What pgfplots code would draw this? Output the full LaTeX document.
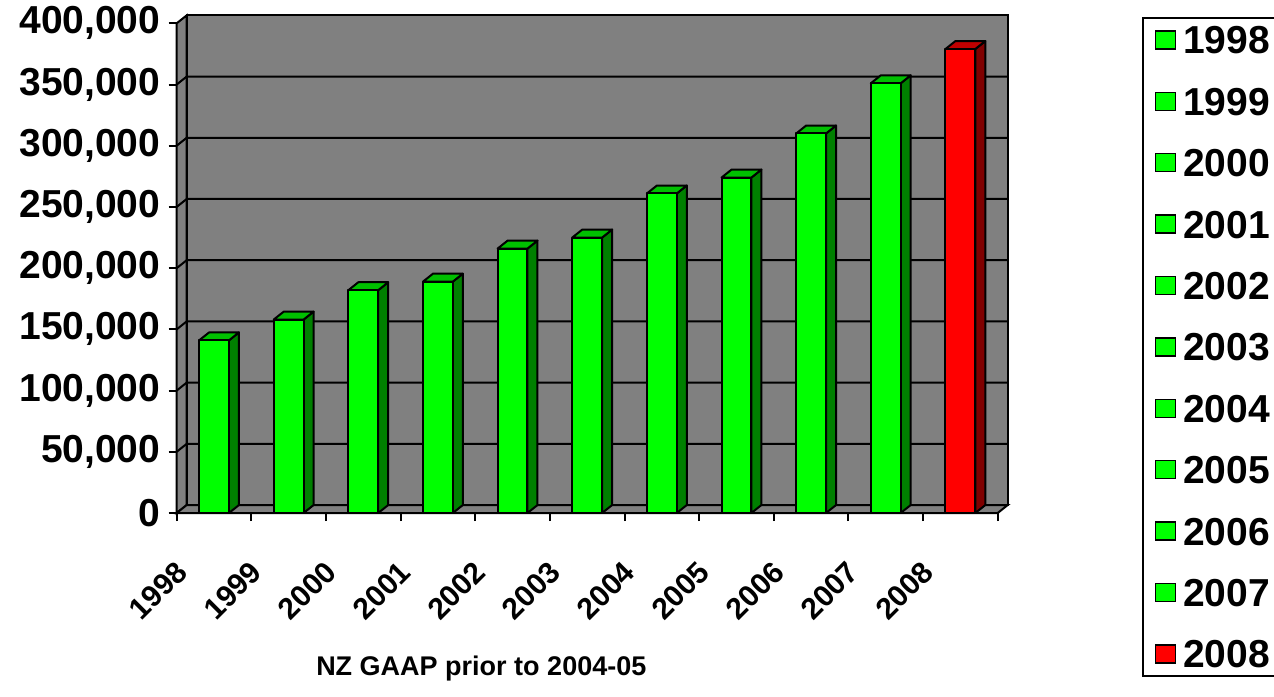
\documentclass[border=0pt]{standalone}
\usepackage{pgfplots}
\pgfplotsset{compat=1.18}
\usepackage{pgfplotstable}
\usepackage{fontspec}
\setmainfont{Liberation Sans}
\definecolor{wall}{HTML}{808080}
\definecolor{gfront}{HTML}{00FF00}
\definecolor{gside}{HTML}{008000}
\definecolor{gtop}{HTML}{00C000}
\definecolor{rfront}{HTML}{FF0000}
\definecolor{rside}{HTML}{800000}
\definecolor{rtop}{HTML}{C00000}

\pgfplotstableread{
year v
1998 141000
1999 158000
2000 182000
2001 189000
2002 216000
2003 225000
2004 261000
2005 274000
2006 310000
2007 351000
2008 379000
}\datatable

\begin{document}
\begin{tikzpicture}
\path[use as bounding box] (-88.35pt,-91.5pt) rectangle (548.65pt,256.5pt);
\begin{axis}[
  at={(0pt,0pt)}, anchor=south west,
  scale only axis, width=410.5pt, height=244.85pt,
  xmin=-0.5, xmax=10.5, ymin=0, ymax=400000,
  clip=false,
  /pgf/number format/assume math mode=true,
  /pgf/number format/fixed,
  /pgf/number format/precision=0,
  /pgf/number format/1000 sep={,},
  axis lines=left, axis line style={-, line width=1pt, black},
  tick align=outside, tick style={line width=1pt, black},
  major tick length=4pt, minor tick length=4pt,
  xtick={0,1,...,10},
  xticklabels={1998,1999,2000,2001,2002,2003,2004,2005,2006,2007,2008},
  minor xtick={-0.5,0.5,...,10.5},
  major x tick style={draw=none},
  xticklabel style={xshift=-20pt, yshift=-19pt, rotate=45, anchor=north east, inner sep=0pt, font=\fontsize{15}{15}\selectfont\bfseries},
  ytick={0,50000,...,400000},
  scaled y ticks=false,
  yticklabel style={font=\fontsize{19.5}{19.5}\selectfont\bfseries, inner sep=0pt, xshift=-4pt},
  xlabel={NZ GAAP prior to 2004-05},
  xlabel style={at={(axis description cs:0.371,-0.318)}, anchor=center, font=\fontsize{13.5}{13.5}\selectfont\bfseries},
  legend style={at={(axis description cs:1.1754,1.0129)}, anchor=north west, draw=black, line width=1pt, fill=white, inner xsep=6pt, inner ysep=4pt, row sep=16.7pt, column sep=3.5pt, font=\fontsize{19.5}{19.5}\selectfont\bfseries, nodes={inner sep=0pt, text height=14pt, text depth=0pt}, cells={anchor=west}},
  legend image code/.code={\draw[#1, line width=0.7pt] (0pt,-4.5pt) rectangle (10pt,4.5pt);},
]
\addlegendimage{fill=gfront, draw=black}
\addlegendimage{fill=gfront, draw=black}
\addlegendimage{fill=gfront, draw=black}
\addlegendimage{fill=gfront, draw=black}
\addlegendimage{fill=gfront, draw=black}
\addlegendimage{fill=gfront, draw=black}
\addlegendimage{fill=gfront, draw=black}
\addlegendimage{fill=gfront, draw=black}
\addlegendimage{fill=gfront, draw=black}
\addlegendimage{fill=gfront, draw=black}
\addlegendimage{fill=rfront, draw=black}
\legend{1998,1999,2000,2001,2002,2003,2004,2005,2006,2007,2008}

% walls and floor
\addplot[fill=wall, draw=black, line width=1pt, mark=none] coordinates {(-0.366,6500) (10.634,6500) (10.634,406500) (-0.366,406500)} -- cycle;
\addplot[fill=wall, draw=black, line width=1pt, mark=none] coordinates {(-0.5,0) (-0.366,6500) (-0.366,406500) (-0.5,400000)} -- cycle;
\addplot[fill=wall, draw=black, line width=1pt, mark=none] coordinates {(-0.5,0) (10.5,0) (10.634,6500) (-0.366,6500)} -- cycle;
% gridlines on the walls
\addplot[black, line width=1pt, mark=none, unbounded coords=jump] coordinates {
(-0.5,50000) (-0.366,56500) (10.634,56500) (nan,nan)
(-0.5,100000) (-0.366,106500) (10.634,106500) (nan,nan)
(-0.5,150000) (-0.366,156500) (10.634,156500) (nan,nan)
(-0.5,200000) (-0.366,206500) (10.634,206500) (nan,nan)
(-0.5,250000) (-0.366,256500) (10.634,256500) (nan,nan)
(-0.5,300000) (-0.366,306500) (10.634,306500) (nan,nan)
(-0.5,350000) (-0.366,356500) (10.634,356500)
};

% 3D bars
\pgfplotsforeachungrouped \i in {0,...,10}{%
  \pgfplotstablegetelem{\i}{v}\of\datatable
  \let\val\pgfplotsretval
  \pgfkeys{/pgf/fpu=true,/pgf/fpu/output format=fixed}%
  \pgfmathsetmacro\vt{\val+6500}%
  \pgfmathsetmacro\xl{\i-0.2}%
  \pgfmathsetmacro\xr{\i+0.2}%
  \pgfmathsetmacro\xrb{\i+0.334}%
  \pgfmathsetmacro\xlb{\i-0.066}%
  \pgfkeys{/pgf/fpu=false}%
  \ifnum\i=10 \def\fc{rfront}\def\sc{rside}\def\tc{rtop}\else\def\fc{gfront}\def\sc{gside}\def\tc{gtop}\fi
  \edef\temp{%
    \noexpand\addplot[fill=\sc,draw=black,line width=1pt,line join=round,mark=none] coordinates {(\xr,0) (\xrb,6500) (\xrb,\vt) (\xr,\val)} -- cycle;
    \noexpand\addplot[fill=\tc,draw=black,line width=1pt,line join=round,mark=none] coordinates {(\xl,\val) (\xlb,\vt) (\xrb,\vt) (\xr,\val)} -- cycle;
    \noexpand\addplot[fill=\fc,draw=black,line width=1pt,line join=round,mark=none] coordinates {(\xl,0) (\xr,0) (\xr,\val) (\xl,\val)} -- cycle;
  }\temp
}
\end{axis}
\end{tikzpicture}
\end{document}
